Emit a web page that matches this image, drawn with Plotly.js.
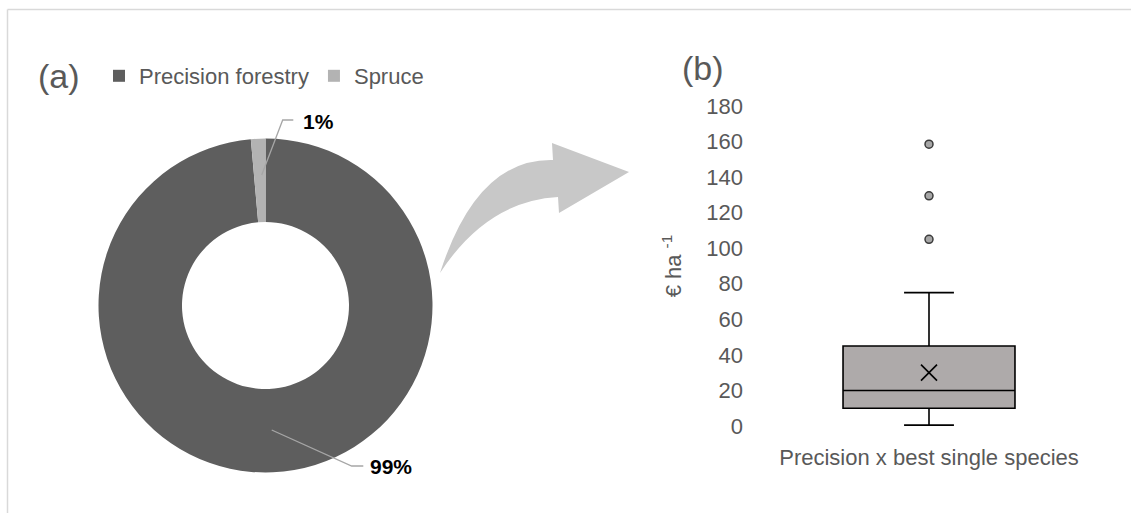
<!DOCTYPE html>
<html>
<head>
<meta charset="utf-8">
<script src="https://cdn.plot.ly/plotly-3.0.1.min.js"></script>
<style>html,body{margin:0;padding:0;background:#fff;}#chart{width:1131px;height:513px;}</style>
</head>
<body>
<div id="chart"></div>
<script>
// ---- data ----
var pieLabels = ['Precision forestry', 'Spruce'];
var pieValues = [98.6, 1.4];
var boxCategory = ['Precision x best single species'];
var boxQ1 = [10];
var boxMedian = [20];
var boxQ3 = [45];
var boxLowerFence = [0.5];
var boxUpperFence = [75];
var boxMean = [30];
var boxOutliers = [105, 129.5, 158.5];
var yTickVals = [0, 20, 40, 60, 80, 100, 120, 140, 160, 180];

// ---- helpers ----
var W = 1131, H = 513;
function px(x) { return x / W; }
function py(y) { return 1 - y / H; }
var FONT = 'Arial, "Liberation Sans", sans-serif';
var GREY_TXT = '#595959';

var total = pieValues.reduce(function (a, b) { return a + b; }, 0);
var pctText = pieValues.map(function (v) { return Math.round(v / total * 100) + '%'; });

var traces = [
  {
    type: 'pie',
    labels: pieLabels,
    values: pieValues,
    hole: 0.5,
    sort: false,
    direction: 'clockwise',
    rotation: 0,
    textinfo: 'none',
    hoverinfo: 'skip',
    marker: { colors: ['#5e5e5e', '#b3b3b3'], line: { width: 0 } },
    domain: { x: [px(98.5), px(432.5)], y: [py(472.5), py(138.5)] },
    showlegend: true
  },
  {
    type: 'box',
    x: boxCategory,
    q1: boxQ1,
    median: boxMedian,
    q3: boxQ3,
    lowerfence: boxLowerFence,
    upperfence: boxUpperFence,
    width: 0.475,
    whiskerwidth: 0.29,
    boxpoints: false,
    fillcolor: '#aeaaaa',
    line: { color: '#000000', width: 1.6 },
    hoverinfo: 'skip',
    showlegend: false,
    xaxis: 'x', yaxis: 'y'
  },
  {
    type: 'scatter',
    mode: 'markers',
    x: boxCategory,
    y: boxMean,
    marker: { symbol: 'x-thin-open', size: 16, color: '#000000', line: { color: '#000000', width: 1.6 } },
    hoverinfo: 'skip',
    showlegend: false,
    xaxis: 'x', yaxis: 'y'
  },
  {
    type: 'scatter',
    mode: 'markers',
    x: boxOutliers.map(function () { return boxCategory[0]; }),
    y: boxOutliers,
    marker: { symbol: 'circle', size: 8, color: '#a6a6a6', line: { color: '#3a3a3a', width: 1.5 } },
    hoverinfo: 'skip',
    showlegend: false,
    xaxis: 'x', yaxis: 'y'
  }
];

// leader lines, arrow and frame
function pathFromPx(cmds) {
  return cmds.map(function (c) {
    if (c[0] === 'Z') return 'Z';
    var s = c[0];
    for (var i = 1; i < c.length; i += 2) {
      s += ' ' + px(c[i]).toFixed(5) + ',' + py(c[i + 1]).toFixed(5);
    }
    return s;
  }).join(' ');
}

var shapes = [
  // frame
  { type: 'line', xref: 'paper', yref: 'paper', x0: px(7.5), y0: py(9.5), x1: px(1131), y1: py(9.5), line: { color: '#d9d9d9', width: 1.5 } },
  { type: 'line', xref: 'paper', yref: 'paper', x0: px(7.5), y0: py(9.5), x1: px(7.5), y1: py(513), line: { color: '#d9d9d9', width: 1.5 } },
  // curved arrow
  {
    type: 'path', xref: 'paper', yref: 'paper',
    path: pathFromPx([
      ['M', 440, 273], ['Q', 477, 158, 553, 160], ['L', 552, 143], ['L', 629, 172],
      ['L', 559, 213], ['L', 558, 197], ['Q', 487, 201, 440, 273], ['Z']
    ]),
    fillcolor: '#c8c8c8', line: { width: 0 }
  },
  // leader 99%
  {
    type: 'path', xref: 'paper', yref: 'paper',
    path: pathFromPx([['M', 271.7, 430], ['L', 351.7, 466], ['L', 363.3, 466]]),
    line: { color: '#a6a6a6', width: 1.3 }
  },
  // leader 1%
  {
    type: 'path', xref: 'paper', yref: 'paper',
    path: pathFromPx([['M', 261.7, 175], ['L', 282.7, 120], ['L', 293.3, 120]]),
    line: { color: '#a6a6a6', width: 1.3 }
  }
];

var annotations = [
  { xref: 'paper', yref: 'paper', x: px(36), y: py(76), xanchor: 'left', yanchor: 'middle', showarrow: false,
    text: '(a)', font: { family: FONT, size: 34, color: GREY_TXT } },
  { xref: 'paper', yref: 'paper', x: px(680), y: py(68), xanchor: 'left', yanchor: 'middle', showarrow: false,
    text: '(b)', font: { family: FONT, size: 34, color: GREY_TXT } },
  { xref: 'paper', yref: 'paper', x: px(368), y: py(466), xanchor: 'left', yanchor: 'middle', showarrow: false,
    text: '<b>' + pctText[0] + '</b>', font: { family: FONT, size: 21, color: '#000000' } },
  { xref: 'paper', yref: 'paper', x: px(301), y: py(121), xanchor: 'left', yanchor: 'middle', showarrow: false,
    text: '<b>' + pctText[1] + '</b>', font: { family: FONT, size: 21, color: '#000000' } }
];

var layout = {
  width: W, height: H,
  margin: { l: 0, r: 0, t: 0, b: 0, pad: 0 },
  paper_bgcolor: '#ffffff',
  plot_bgcolor: 'rgba(0,0,0,0)',
  font: { family: FONT, size: 22, color: GREY_TXT },
  showlegend: true,
  legend: {
    orientation: 'h', x: px(99), y: py(76), xanchor: 'left', yanchor: 'middle',
    font: { family: FONT, size: 22, color: GREY_TXT }, itemwidth: 30, tracegroupgap: 0,
    bgcolor: 'rgba(0,0,0,0)'
  },
  xaxis: {
    domain: [px(748), px(1110)],
    range: [-0.5, 0.5],
    type: 'category',
    showgrid: false, zeroline: false, showline: false, ticks: '',
    ticklabelstandoff: 16,
    tickfont: { family: FONT, size: 22, color: GREY_TXT },
    fixedrange: true
  },
  yaxis: {
    domain: [py(426), py(106)],
    range: [0, 180],
    tickvals: yTickVals,
    showgrid: false, zeroline: false, showline: false, ticks: '',
    ticklabelstandoff: 4,
    tickfont: { family: FONT, size: 22, color: GREY_TXT },
    title: { text: '€ ha <sup>-1</sup>', font: { family: FONT, size: 22, color: GREY_TXT }, standoff: 18 },
    fixedrange: true
  },
  shapes: shapes,
  annotations: annotations
};

Plotly.newPlot('chart', traces, layout, { staticPlot: true, displayModeBar: false });
</script>
</body>
</html>
